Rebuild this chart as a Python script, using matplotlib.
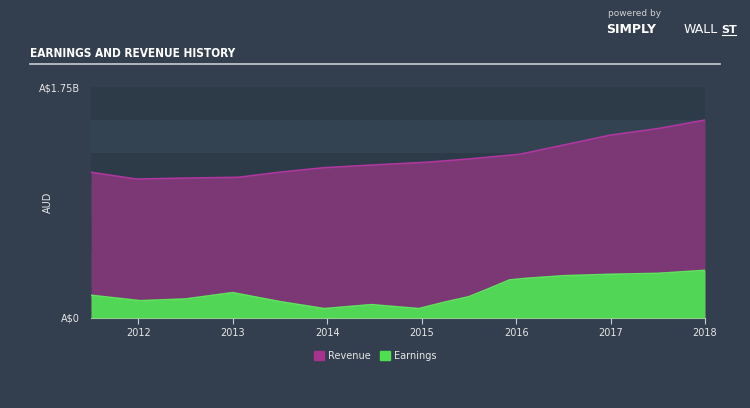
import numpy as np
import matplotlib.pyplot as plt
from matplotlib.patches import Patch

# data (billions AUD)
rev_x = [2011.5, 2011.98, 2012.5, 2013.06, 2013.5, 2013.97, 2014.5, 2015.05, 2015.5, 2016.05, 2016.5, 2017.0, 2017.5, 2018.0]
rev_y = [1.104, 1.053, 1.060, 1.066, 1.105, 1.139, 1.160, 1.180, 1.205, 1.242, 1.310, 1.386, 1.435, 1.500]

earn_x = [2011.5, 2012.02, 2012.5, 2013.0, 2013.5, 2013.97, 2014.47, 2014.97, 2015.25, 2015.5, 2015.72, 2015.93, 2016.1, 2016.5, 2017.0, 2017.5, 2018.0]
earn_y = [0.172, 0.131, 0.144, 0.192, 0.124, 0.071, 0.101, 0.071, 0.121, 0.161, 0.225, 0.288, 0.300, 0.320, 0.331, 0.338, 0.361]

years = [2012, 2013, 2014, 2015, 2016, 2017, 2018]

bg = '#333f4e'
fig = plt.figure(figsize=(7.5, 4.08), dpi=100)
fig.patch.set_facecolor(bg)
ax = fig.add_axes([0.1213, 0.2206, 0.8187, 0.566])
ax.set_facecolor(bg)

# alternating bands
for i, lo in enumerate(np.arange(0, 1.75, 0.25)):
    col = '#2d3a48' if (6 - i) % 2 == 0 else '#334352'
    ax.axhspan(lo, lo + 0.25, color=col, lw=0, zorder=0)

ax.fill_between(rev_x, 0, rev_y, color='#7b3875', lw=0, zorder=2)
ax.plot(rev_x, rev_y, color='#b0379f', lw=1.2, zorder=3)
ax.fill_between(earn_x, 0, earn_y, color='#52d655', lw=0, zorder=4)
ax.plot(earn_x, earn_y, color='#5ee55e', lw=1.2, zorder=5)

ax.set_xlim(2011.5, 2018.0)
ax.set_ylim(0, 1.75)
ax.set_xticks(years)
ax.set_xticklabels([str(y) for y in years], color='#e6e6e6', fontsize=7)
ax.set_yticks([0, 1.75])
ax.set_yticklabels(['A$0', 'A$1.75B'], color='#e6e6e6', fontsize=7)
ax.tick_params(axis='y', length=0, pad=8)
ax.tick_params(axis='x', length=4, color='#cccccc', pad=3)
for s in ['top', 'right', 'left']:
    ax.spines[s].set_visible(False)
ax.spines['bottom'].set_color('#cccccc')
ax.set_ylabel('AUD', color='#e6e6e6', fontsize=7)
ax.yaxis.set_label_coords(-0.062, 0.5)

# title and rule
fig.text(0.04, 0.86, 'EARNINGS AND REVENUE HISTORY', color='white', fontsize=8.5,
         fontweight='bold', fontstretch='condensed', family='DejaVu Sans')
fig.add_artist(plt.Line2D([0.04, 0.96], [0.843, 0.843], color='#c8ccd0', lw=1.2))

# branding
fig.text(0.81, 0.96, 'powered by', color='#d0d0d0', fontsize=6.5)
fig.text(0.808, 0.92, 'SIMPLY', color='white', fontsize=9, fontweight='bold')
fig.text(0.912, 0.92, 'WALL', color='white', fontsize=9)
fig.text(0.962, 0.92, 'ST', color='white', fontsize=8, fontweight='bold')
fig.add_artist(plt.Line2D([0.962, 0.981], [0.915, 0.915], color='white', lw=0.8))

leg = fig.legend(handles=[Patch(color='#a8338f', label='Revenue'), Patch(color='#4fe04f', label='Earnings')],
                 loc='center', bbox_to_anchor=(0.5, 0.128), ncol=2, frameon=False,
                 fontsize=7, handlelength=1.0, handleheight=1.0, columnspacing=1.0, handletextpad=0.4)
for t in leg.get_texts():
    t.set_color('#e6e6e6')

fig.savefig('out.png', dpi=100, facecolor=bg)
